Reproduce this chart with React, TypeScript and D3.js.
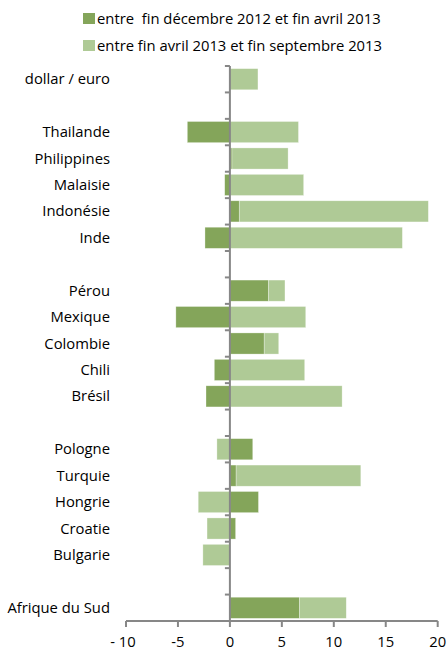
import React from "react";
import * as d3 from "d3";

const categories = [
  "dollar / euro", "", "Thailande", "Philippines", "Malaisie", "Indonésie", "Inde", "",
  "Pérou", "Mexique", "Colombie", "Chili", "Brésil", "",
  "Pologne", "Turquie", "Hongrie", "Croatie", "Bulgarie", "", "Afrique du Sud",
];
const seriesDecApr = [0, 0, -4.1, 0.2, -0.5, 0.9, -2.4, 0, 3.7, -5.2, 3.3, -1.5, -2.3, 0, 2.2, 0.6, 2.75, 0.55, 0, 0, 6.7];
const seriesAprSep = [2.7, 0, 6.6, 5.4, 7.1, 18.2, 16.6, 0, 1.6, 7.3, 1.4, 7.2, 10.8, 0, -1.25, 12.0, -3.05, -2.2, -2.6, 0, 4.5];
const seriesNames = ["entre  fin décembre 2012 et fin avril 2013", "entre fin avril 2013 et fin septembre 2013"];
const xTicks = [-10, -5, 0, 5, 10, 15, 20];
const xTickLabels = ["- 10", "-5", "0", "5", "10", "15", "20"];

const W = 447;
const H = 650;
const FONT = "'Open Sans', sans-serif";
const COLORS = ["#84A55A", "#AFCA96"];
const AXIS = "#878787";
const FS = 14.8;

export default function App() {
  const x = d3.scaleLinear().domain([-10, 20]).range([126, 437.7]);
  const idx = categories.map((_, i) => String(i));
  const y = d3.scaleBand().domain(idx).range([66, 621]).paddingInner(0.2).paddingOuter(0.1);
  const step = y.step();

  const rows = categories.map((c, i) => ({ key: String(i), a: seriesDecApr[i], b: seriesAprSep[i] }));
  const stack = d3.stack<any>().keys(["a", "b"]).offset(d3.stackOffsetDiverging);
  const stacked = stack(rows);

  const boundaries = d3.range(categories.length + 1).map((i) => 66 + i * step);
  const x0 = x(0);

  return (
    <svg width={W} height={H} style={{ position: "absolute", left: 0, top: 0 }} fontFamily={FONT}>
      <rect width={W} height={H} fill="#fff" />
      {/* legend */}
      {seriesNames.map((n, i) => (
        <g key={n}>
          <rect x={83} y={13 + i * 27} width={12} height={11} fill={COLORS[i]} />
          <text x={97} y={23.5 + i * 27} fontSize={FS} fill="#000" style={{ whiteSpace: "pre" }}>{n}</text>
        </g>
      ))}
      {/* bars */}
      {stacked.map((s, si) => (
        <g key={si}>
          {s.map((d, i) => {
            const v = si === 0 ? seriesDecApr[i] : seriesAprSep[i];
            if (!v) return null;
            const left = x(Math.min(d[0], d[1]));
            const right = x(Math.max(d[0], d[1]));
            return (
              <rect key={i} x={left} y={y(String(i))} width={right - left} height={y.bandwidth()}
                fill={COLORS[si]} stroke="rgba(255,255,255,0.5)" strokeWidth={0.6} />
            );
          })}
        </g>
      ))}
      {/* category labels */}
      {categories.map((c, i) => c ? (
        <text key={i} x={110} y={(y(String(i)) as number) + y.bandwidth() / 2 + 5} textAnchor="end" fontSize={FS} fill="#000">{c}</text>
      ) : null)}
      {/* zero axis */}
      <line x1={x0} x2={x0} y1={66} y2={621} stroke={AXIS} strokeWidth={2} />
      {boundaries.map((b, i) => (
        <line key={i} x1={x0 - 5} x2={x0} y1={b} y2={b} stroke={AXIS} strokeWidth={2} />
      ))}
      {/* x axis */}
      <line x1={x(-10)} x2={x(20)} y1={621} y2={621} stroke={AXIS} strokeWidth={2} />
      {xTicks.map((t, i) => (
        <g key={t}>
          <line x1={x(t)} x2={x(t)} y1={621} y2={627} stroke={AXIS} strokeWidth={2} />
          <text x={x(t) - (i === 0 ? 3 : 0)} y={647} textAnchor="middle" fontSize={FS} fill="#000" style={{ whiteSpace: "pre" }}>{xTickLabels[i]}</text>
        </g>
      ))}
    </svg>
  );
}
